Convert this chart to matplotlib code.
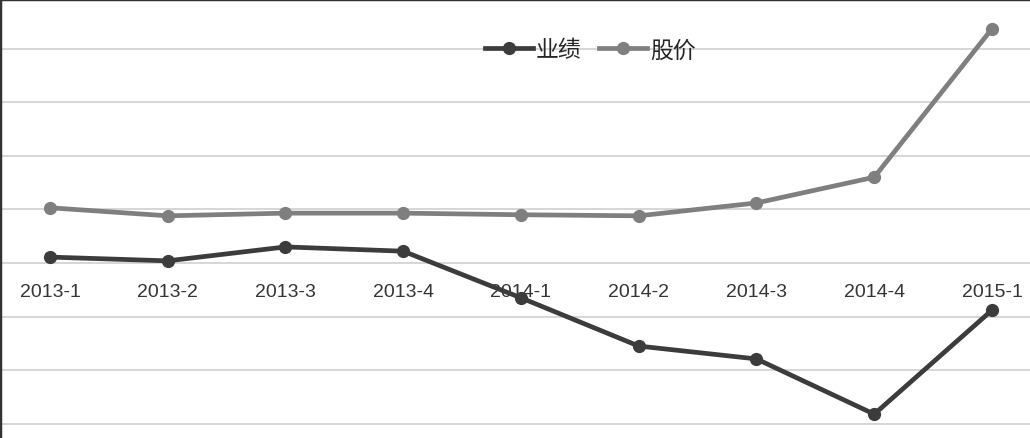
import matplotlib.pyplot as plt

plt.rcParams['font.family'] = ['Liberation Sans', 'Noto Sans CJK SC']

quarters = ['2013-1', '2013-2', '2013-3', '2013-4', '2014-1', '2014-2', '2014-3', '2014-4', '2015-1']
perf = [0.11, 0.04, 0.30, 0.22, -0.65, -1.55, -1.79, -2.82, -0.88]    # 业绩
price = [1.03, 0.88, 0.93, 0.93, 0.90, 0.88, 1.12, 1.60, 4.37]      # 股价
grid_vals = [-3, -2, -1, 0, 1, 2, 3, 4]

fig = plt.figure(figsize=(10.30, 4.39), dpi=100)
ax = fig.add_axes([0, 0, 1, 1])

idx = list(range(len(quarters)))
ax.plot(idx, perf, color='#3c3c3c', lw=3.4, marker='o', ms=8.5, label='业绩', zorder=3)
ax.plot(idx, price, color='#7f7f7f', lw=3.4, marker='o', ms=8.5, label='股价', zorder=3)

for g in grid_vals:
    ax.axhline(g, color='#d6d6d6', lw=1.4, zorder=1)

ax.set_xlim(-0.4246, 8.323)
ax.set_ylim(-3.265, 4.925)

# category labels sit under the zero line
ax.spines['bottom'].set_position(('data', 0))
ax.spines['bottom'].set_visible(False)
ax.spines['right'].set_visible(False)
ax.spines['left'].set_color('#333333')
ax.spines['top'].set_color('#333333')
ax.spines['left'].set_linewidth(2.5)
ax.spines['top'].set_linewidth(2.5)
ax.set_xticks(idx)
ax.set_xticklabels(quarters, fontsize=14, color='#353535')
ax.tick_params(axis='x', length=0, pad=14.5)
ax.set_yticks([])

ax.legend(loc='center', bbox_to_anchor=(0.573, 0.884), ncol=2, frameon=False,
          fontsize=16.5, handlelength=2.1, handletextpad=0.1, columnspacing=0.8,
          labelcolor='#262626')

fig.savefig('out.png', dpi=100, facecolor='white')
